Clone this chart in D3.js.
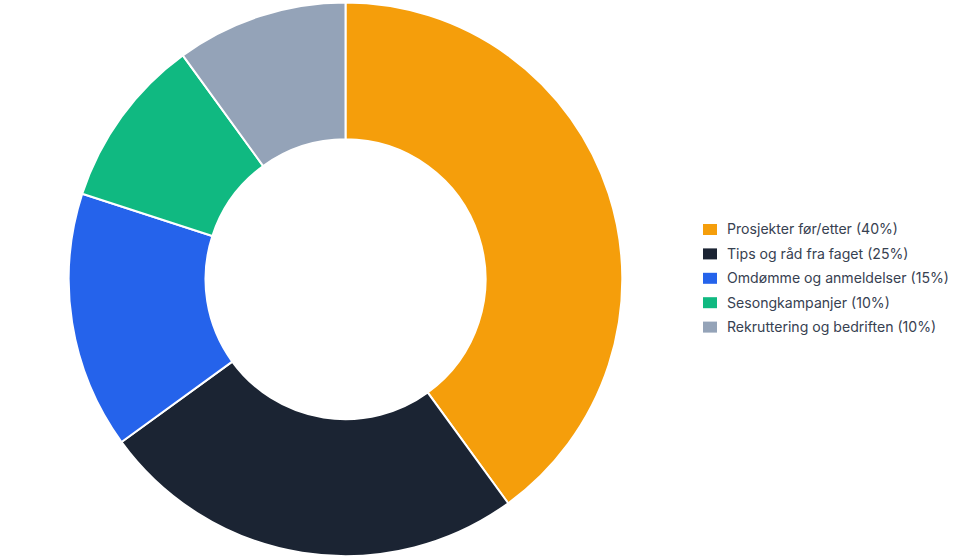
<!DOCTYPE html>
<html><head><meta charset="utf-8">
<script src="https://cdn.jsdelivr.net/npm/d3@7"></script>
<style>html,body{margin:0;padding:0;background:#fff;}svg{display:block;}</style>
</head><body>
<svg id="chart" width="960" height="560"></svg>
<script>
const categories = ["Prosjekter før/etter (40%)", "Tips og råd fra faget (25%)", "Omdømme og anmeldelser (15%)", "Sesongkampanjer (10%)", "Rekruttering og bedriften (10%)"];
const values = [40, 25, 15, 10, 10];
const colors = ["#f59e0b", "#1b2433", "#2563eb", "#10b981", "#94a3b8"];

const svg = d3.select("#chart");
const cx = 345.5, cy = 279.3, outerR = 276.8, innerR = 140;

const pie = d3.pie().sort(null).value(d => d)(values);
const arc = d3.arc().innerRadius(innerR).outerRadius(outerR);

svg.append("g").attr("transform", `translate(${cx},${cy})`)
  .selectAll("path").data(pie).join("path")
  .attr("d", arc)
  .attr("fill", (d, i) => colors[i])
  .attr("stroke", "#fff").attr("stroke-width", 2).attr("stroke-linejoin", "round");

const legend = svg.append("g").attr("transform", "translate(703,224)");
const rows = legend.selectAll("g").data(categories).join("g")
  .attr("transform", (d, i) => `translate(0,${i * 24.4})`);
rows.append("rect").attr("width", 14).attr("height", 11).attr("fill", (d, i) => colors[i]);
rows.append("text").attr("x", 24).attr("y", 5.5).attr("dy", "0.35em")
  .attr("font-family", "Inter, sans-serif").attr("font-size", 14.1).attr("fill", "#374151")
  .text(d => d);
</script>
</body></html>
